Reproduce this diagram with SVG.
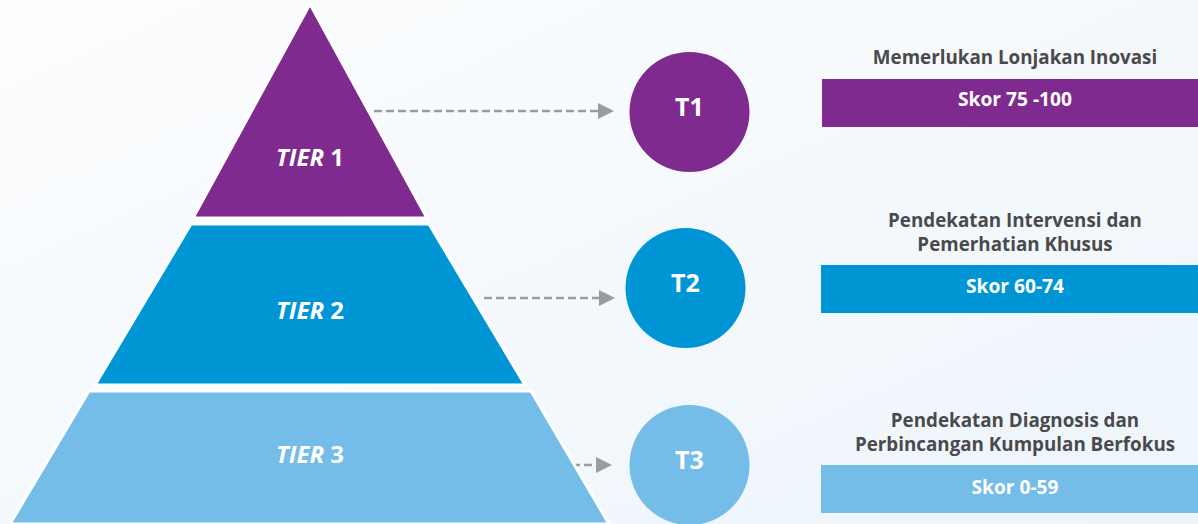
<svg xmlns="http://www.w3.org/2000/svg" width="1198" height="524" viewBox="0 0 1198 524">
<defs>
<linearGradient id="bg" x1="0" y1="0" x2="1" y2="1">
<stop offset="0" stop-color="#fcfdfe"/>
<stop offset="0.6" stop-color="#f3f8fc"/>
<stop offset="1" stop-color="#edf5fb"/>
</linearGradient>
<marker id="ah" viewBox="0 0 10 10" refX="0" refY="5" markerWidth="16" markerHeight="16" markerUnits="userSpaceOnUse" orient="auto">
<path d="M0,0 L10,5 L0,10 z" fill="#9c9c9f"/>
</marker>
<style>
.conn{stroke:#9c9c9f;stroke-width:2.5;stroke-dasharray:8 4;fill:none}
.tier{stroke:#ffffff;stroke-width:3;stroke-linejoin:miter}
.tl{font-family:"Open Sans","Liberation Sans",sans-serif;font-weight:bold;font-size:24px;fill:#ffffff;text-anchor:middle}
.tl .it{font-style:italic}
.ct{font-family:"Open Sans","Liberation Sans",sans-serif;font-weight:bold;font-size:25px;fill:#ffffff;text-anchor:middle}
.ttl{font-family:"Open Sans","Liberation Sans",sans-serif;font-weight:bold;font-size:18.8px;fill:#4a4a4c;text-anchor:middle}
.sk{font-family:"Open Sans","Liberation Sans",sans-serif;font-weight:bold;font-size:19.2px;fill:#ffffff;text-anchor:middle}
.p{fill:#7f2a8e}.b{fill:#0096d6}.lb{fill:#74bde8}
</style>
</defs>
<rect width="1198" height="524" fill="url(#bg)"/>
<g id="connectors">
<line class="conn" x1="374" y1="111" x2="598" y2="111" marker-end="url(#ah)"/>
<line class="conn" x1="484" y1="298" x2="599" y2="298" marker-end="url(#ah)"/>
<line class="conn" x1="560" y1="465" x2="596" y2="465" marker-end="url(#ah)"/>
</g>
<g id="tier1">
<polygon class="tier p" points="310,4 193,218 427,218"/>
<text class="tl" x="310" y="166"><tspan class="it">TIER</tspan> 1</text>
</g>
<g id="tier2">
<polygon class="tier b" points="191,224 429,224 525,385 95,385"/>
<text class="tl" x="310" y="319"><tspan class="it">TIER</tspan> 2</text>
</g>
<g id="tier3">
<polygon class="tier lb" points="89,391 531,391 609,524 10,524"/>
<text class="tl" x="310" y="463"><tspan class="it">TIER</tspan> 3</text>
</g>
<g id="t1">
<circle class="p" cx="689.5" cy="112" r="60"/>
<text class="ct" x="689.5" y="116">T1</text>
</g>
<g id="t2">
<circle class="b" cx="685.5" cy="288" r="60"/>
<text class="ct" x="685.5" y="292">T2</text>
</g>
<g id="t3">
<circle class="lb" cx="689.5" cy="465" r="60"/>
<text class="ct" x="689.5" y="469">T3</text>
</g>
<g id="score1">
<text class="ttl" x="1015" y="64">Memerlukan Lonjakan Inovasi</text>
<rect class="p" x="822" y="79" width="376" height="48"/>
<text class="sk" x="1015" y="106">Skor 75 -100</text>
</g>
<g id="score2">
<text class="ttl" x="1015" y="227">Pendekatan Intervensi dan</text>
<text class="ttl" x="1015" y="251">Pemerhatian Khusus</text>
<rect class="b" x="821" y="265" width="377" height="48"/>
<text class="sk" x="1015" y="293">Skor 60-74</text>
</g>
<g id="score3">
<text class="ttl" x="1015" y="427">Pendekatan Diagnosis dan</text>
<text class="ttl" x="1015" y="451">Perbincangan Kumpulan Berfokus</text>
<rect class="lb" x="821" y="465" width="377" height="48"/>
<text class="sk" x="1015" y="494">Skor 0-59</text>
</g>
</svg>
